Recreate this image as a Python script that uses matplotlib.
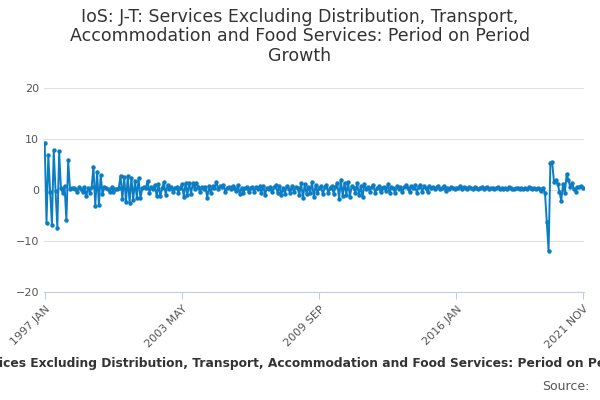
import matplotlib
matplotlib.use("Agg")
import matplotlib.pyplot as plt
import numpy as np

# monthly growth values, 1997 JAN .. 2021 NOV
y1997 = [9.3, -6.5, 6.8, -0.3, -6.8, 7.8, -0.2, -7.4, 7.6, 0.3, -0.5, 0.8]
y1998 = [-5.9, 5.8, 0.2, 0.4, 0.3, 0.2, -0.3, 0.5, 0.1, -0.4, 0.6, -1.2]
y1999 = [0.4, -0.5, 0.6, 4.6, -3.2, 3.6, -3.0, 2.9, -0.8, 0.5, 0.3, 0.2]
y2000 = [-0.4, 0.5, -0.3, 0.1, 0.2, 0.4, 2.8, -1.8, 2.6, -2.4, 2.7, -2.5]
y2001 = [2.4, -1.9, 1.8, -1.5, 2.3, -1.6, 0.3, 0.6, 0.4, 1.8, -0.5, 0.6]
y2002 = [0.2, 1.0, -1.2, 1.1, -1.2, 0.3, 1.6, -1.0, 1.0, 0.2, 0.5, -0.3]
y2003 = [0.4, 0.6, -0.5, 0.3, 1.2, -1.3, 1.3, -0.9, 1.4, -0.7, 1.3, 0.2]
y2004 = [1.4, 0.6, -0.4, 0.5, 0.2, 0.6, -1.5, 0.7, -0.6, 0.8, 0.3, 1.6]
y2005 = [0.2, 0.7, 0.5, 0.9, -0.3, 0.4, 0.6, 0.2, 0.8, 0.4, -0.2, 1.0]
y2006 = [-0.8, 0.4, -0.6, 0.3, 0.5, -0.4, 0.4, 0.6, -0.3, 0.5, 0.1, 0.7]
y2007 = [-0.5, 0.8, -0.9, 0.4, 0.2, 0.6, -0.3, 0.5, 0.9, -0.6, 0.8, -0.9]
y2008 = [0.3, -0.7, 0.8, 0.2, -0.5, 0.7, -0.4, 0.6, 0.3, -0.9, 1.3, -1.6]
y2009 = [1.2, -0.8, 0.6, -0.5, 1.5, -1.3, 0.9, -0.6, 0.4, 0.7, -0.8, 0.5]
y2010 = [1.0, -0.6, 0.3, 0.8, -0.7, 0.6, 1.4, -1.7, 2.0, -1.2, 1.4, -0.9]
y2011 = [1.5, -1.3, 0.8, 0.4, -0.5, 1.3, -1.0, 0.7, -1.4, 1.1, 0.2, 0.5]
y2012 = [-0.3, 0.6, 0.9, -0.5, 0.3, 0.7, -0.4, 0.4, 0.6, -0.2, 1.1, -0.5]
y2013 = [0.5, 0.3, -0.6, 0.8, 0.2, 0.6, -0.3, 0.5, 0.9, 0.3, -0.4, 0.7]
y2014 = [0.4, 0.9, -0.5, 0.6, 1.0, -0.3, 0.7, 0.4, -0.4, 0.8, 0.3, 0.6]
y2015 = [0.1, 0.5, 0.7, 0.2, 0.3, 0.8, -0.2, 0.4, 0.2, 0.6, 0.3, 0.1]
y2016 = [0.4, 0.3, 0.7, 0.1, 0.5, 0.3, 0.2, 0.6, 0.4, 0.1, 0.5, 0.3]
y2017 = [0.2, 0.4, 0.6, 0.1, 0.3, 0.5, 0.2, 0.4, 0.3, 0.1, 0.4, 0.6]
y2018 = [0.2, 0.3, 0.1, 0.4, 0.2, 0.5, 0.3, 0.1, 0.2, 0.4, 0.3, 0.2]
y2019 = [0.4, 0.2, 0.3, 0.1, 0.5, 0.3, 0.2, 0.4, 0.1, 0.3, 0.2, -0.2]
y2020 = [0.3, -0.5, -6.3, -12.0, 5.3, 5.4, 1.5, 1.9, 1.2, -0.3, -2.1, 1.1]
y2021 = [-0.6, 3.1, 2.0, 0.5, 1.4, 0.2, -0.3, 0.6, 0.5, 0.8, 0.4]

values = (y1997 + y1998 + y1999 + y2000 + y2001 + y2002 + y2003 + y2004 + y2005
          + y2006 + y2007 + y2008 + y2009 + y2010 + y2011 + y2012 + y2013 + y2014
          + y2015 + y2016 + y2017 + y2018 + y2019 + y2020 + y2021)

tick_pos = [0, 76, 152, 228, 298]
tick_labels = ["1997 JAN", "2003 MAY", "2009 SEP", "2016 JAN", "2021 NOV"]

fig = plt.figure(figsize=(6, 4), dpi=100)
ax = fig.add_axes([0.073, 0.27, 0.9, 0.51])
x = np.arange(len(values))
ax.plot(x, values, color="#0b7dc4", lw=1.4, marker="o", ms=2.2)

ax.set_xlim(-0.5, len(values) - 0.5)
ax.set_ylim(-20, 20)
ax.set_yticks([-20, -10, 0, 10, 20])
ax.grid(axis="y", color="#e0e0e0", lw=0.8)
ax.set_axisbelow(True)
for s in ["top", "right", "left"]:
    ax.spines[s].set_visible(False)
ax.spines["bottom"].set_color("#c0d0e0")
ax.tick_params(axis="y", length=0, labelsize=8, colors="#555555")
ax.set_xticks(tick_pos)
ax.set_xticklabels(tick_labels, rotation=45, ha="right", rotation_mode="anchor",
                   fontsize=8, color="#555555")
ax.tick_params(axis="x", color="#c0d0e0", length=5)

fig.text(0.5, 0.98, "IoS: J-T: Services Excluding Distribution, Transport,\n"
         "Accommodation and Food Services: Period on Period\nGrowth",
         ha="center", va="top", fontsize=12.5, color="#333333", linespacing=1.1)
fig.text(0.5, 0.09, "IoS: J-T: Services Excluding Distribution, Transport, Accommodation and Food Services: Period on Period Growth",
         ha="center", va="center", fontsize=8.8, fontweight="bold", color="#333333")
fig.text(0.983, 0.035, "Source:", ha="right", va="center", fontsize=9, color="#555555")

fig.savefig("out.png")
